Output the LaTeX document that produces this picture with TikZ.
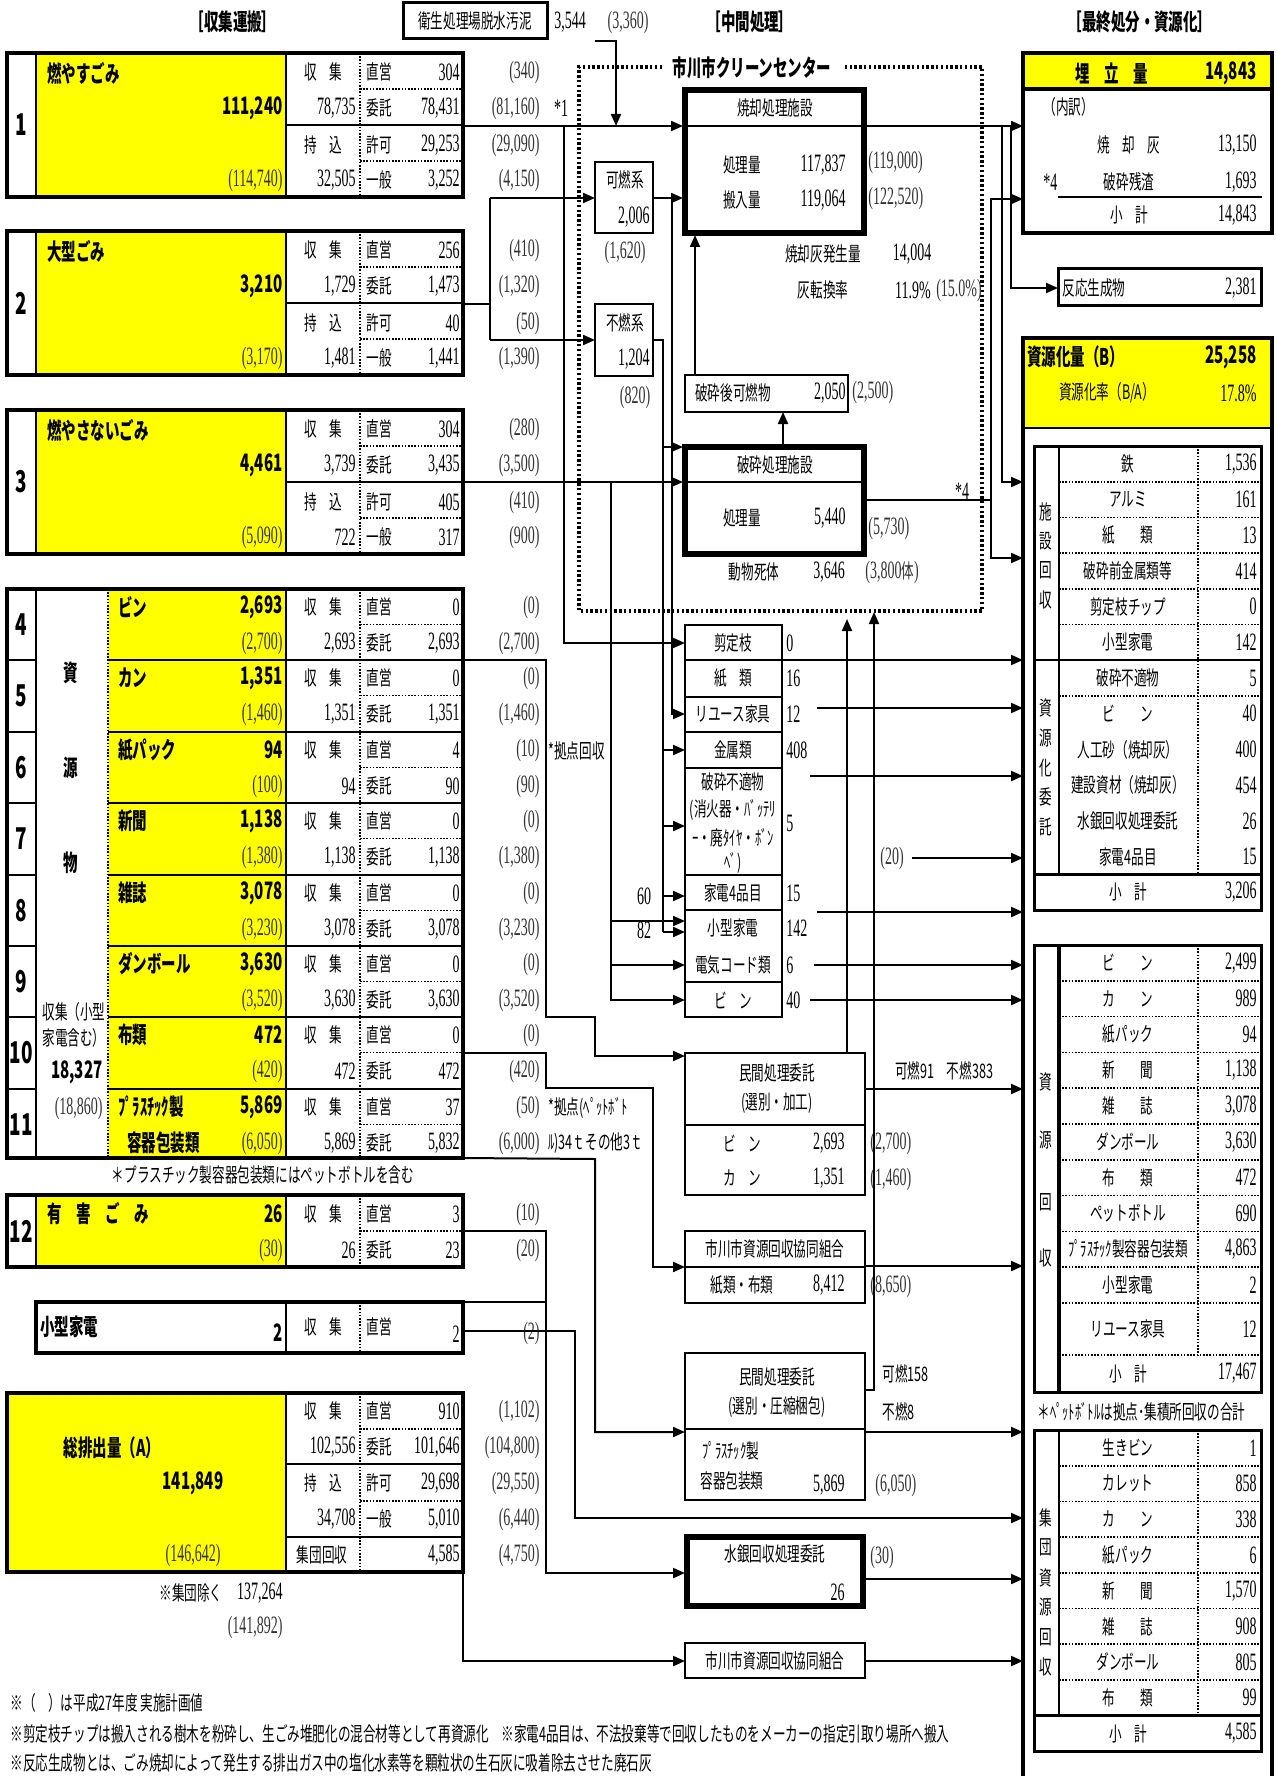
\documentclass[tikz,border=0pt]{standalone}
\usepackage{fontspec}
\setmainfont{Noto Sans CJK JP}[FakeStretch=0.63]
\newfontfamily\numfam{Liberation Serif}[FakeStretch=0.56]
\usetikzlibrary{arrows.meta,calc}
\definecolor{hiyellow}{RGB}{255,255,0}
\tikzset{
  sz/.style 2 args={minimum width=#1*0.5pt,minimum height=#2*0.5pt},
  boxf/.style={draw,line width=2pt,inner sep=0pt,outer sep=0pt,anchor=north west},
  sbox/.style={boxf,line width=1.4pt},
  tbox/.style={boxf,line width=0.8pt},
  jt/.style={inner sep=0pt,font=\fontsize{10}{12}\selectfont},
  jb/.style={inner sep=0pt,font=\bfseries\fontsize{11.5}{13}\selectfont},
  nv/.style={inner sep=0pt,font=\numfam\fontsize{12.5}{14}\selectfont},
  pv/.style={nv,text=black!80},
  bv/.style={inner sep=0pt,font=\bfseries\fontsize{12}{14}\selectfont},
  rowno/.style={inner sep=0pt,font=\bfseries\fontsize{15}{17}\selectfont},
  link/.style={line width=1pt},
  flow/.style={line width=1pt,-{Triangle[length=6pt,width=5pt]}},
  inrule/.style={line width=1.2pt},
  heavy/.style={line width=2pt},
  hair/.style={line width=0.8pt,dash pattern=on 0.8pt off 0.8pt},
  dotbox/.style={line width=1.6pt,dash pattern=on 1.2pt off 1.2pt}
}

\begin{document}
\begin{tikzpicture}[x=0.5pt,y=-0.5pt]
\useasboundingbox (0,0) rectangle (1276,1776);

% headings
\node[jb] (hd1) at (233,22) {［収集運搬］};
\node[jb] (hd2) at (750,22) {［中間処理］};
\node[jb] (hd3) at (1140,22) {［最終処分・資源化］};

% collection 1-3
\foreach \ty/\no/\nm/\tv/\pv/\cv/\mv/\va/\vb/\vc/\vd/\pa/\pb/\pc/\pd in {
  53/1/燃やすごみ/{111,240}/{(114,740)}/{78,735}/{32,505}/304/{78,431}/{29,253}/{3,252}/(340)/{(81,160)}/{(29,090)}/{(4,150)},
  231/2/大型ごみ/{3,210}/{(3,170)}/{1,729}/{1,481}/256/{1,473}/40/{1,441}/(410)/{(1,320)}/(50)/{(1,390)},
  410/3/燃やさないごみ/{4,461}/{(5,090)}/{3,739}/722/304/{3,435}/405/317/(280)/{(3,500)}/(410)/(900)}{
  \fill[hiyellow] (36,\ty) rectangle (286,\ty+144);
  \draw[inrule] (36,\ty) -- (36,\ty+144) (286,\ty) -- (286,\ty+144) (286,\ty+72) -- (463,\ty+72);
  \draw[hair] (360,\ty) -- (360,\ty+144) (360,\ty+36) -- (463,\ty+36) (360,\ty+108) -- (463,\ty+108);
  \node[boxf,sz={456}{144}] (b\no) at (7,\ty) {};
  \node[rowno] (no\no) at (21.5,\ty+72) {\no};
  \node[jb,anchor=west] (nm\no) at (47,\ty+20) {\nm};
  \node[bv,anchor=east] (tv\no) at (283,\ty+55) {\tv};
  \node[pv,anchor=east] (pv\no) at (283,\ty+127) {\pv};
  \node[jt] (sy\no) at (323,\ty+19) {収　集};
  \node[nv,anchor=east] (cv\no) at (356,\ty+55) {\cv};
  \node[jt] (mk\no) at (323,\ty+92) {持　込};
  \node[nv,anchor=east] (mv\no) at (356,\ty+127) {\mv};
  \node[jt,anchor=west] (ka\no) at (366,\ty+19) {直営};
  \node[nv,anchor=east] (va\no) at (460,\ty+19) {\va};
  \node[jt,anchor=west] (kb\no) at (366,\ty+55) {委託};
  \node[nv,anchor=east] (vb\no) at (460,\ty+55) {\vb};
  \node[jt,anchor=west] (kc\no) at (366,\ty+92) {許可};
  \node[nv,anchor=east] (vc\no) at (460,\ty+92) {\vc};
  \node[jt,anchor=west] (kd\no) at (366,\ty+127) {一般};
  \node[nv,anchor=east] (vd\no) at (460,\ty+127) {\vd};
  \node[pv,anchor=east] (pa\no) at (540,\ty+19) {\pa};
  \node[pv,anchor=east] (pb\no) at (540,\ty+55) {\pb};
  \node[pv,anchor=east] (pc\no) at (540,\ty+92) {\pc};
  \node[pv,anchor=east] (pd\no) at (540,\ty+127) {\pd};
}

% collection 4-11 (resources)
\fill[hiyellow] (108,589) rectangle (286,1158);
\foreach \ty/\no/\nm/\tv/\pv/\va/\vb/\pa/\pb in {
  589/4/ビン/{2,693}/{(2,700)}/0/{2,693}/(0)/{(2,700)},
  660/5/カン/{1,351}/{(1,460)}/0/{1,351}/(0)/{(1,460)},
  732/6/紙パック/94/(100)/4/90/(10)/(90),
  803/7/新聞/{1,138}/{(1,380)}/0/{1,138}/(0)/{(1,380)},
  875/8/雑誌/{3,078}/{(3,230)}/0/{3,078}/(0)/{(3,230)},
  946/9/ダンボール/{3,630}/{(3,520)}/0/{3,630}/(0)/{(3,520)},
  1017/10/布類/472/(420)/0/472/(0)/(420),
  1089/11/ﾌﾟﾗｽﾁｯｸ製/{5,869}/{(6,050)}/37/{5,832}/(50)/{(6,000)}}{
  \draw[inrule] (7,\ty) -- (36,\ty) (108,\ty) -- (463,\ty);
  \draw[hair] (360,\ty+35.5) -- (463,\ty+35.5);
  \node[rowno] (no\no) at (21.5,\ty+35.5) {\no};
  \node[jb,anchor=west] (nm\no) at (118,\ty+18) {\nm};
  \node[bv,anchor=east] (tv\no) at (283,\ty+18) {\tv};
  \node[pv,anchor=east] (pv\no) at (283,\ty+54) {\pv};
  \node[jt] (sy\no) at (323,\ty+18) {収　集};
  \node[nv,anchor=east] (cv\no) at (356,\ty+54) {\tv};
  \node[jt,anchor=west] (ka\no) at (366,\ty+18) {直営};
  \node[nv,anchor=east] (va\no) at (460,\ty+18) {\va};
  \node[jt,anchor=west] (kb\no) at (366,\ty+54) {委託};
  \node[nv,anchor=east] (vb\no) at (460,\ty+54) {\vb};
  \node[pv,anchor=east] (pa\no) at (540,\ty+18) {\pa};
  \node[pv,anchor=east] (pb\no) at (540,\ty+54) {\pb};
}
\draw[inrule] (36,589) -- (36,1158) (286,589) -- (286,1158);
\draw[hair] (108,589) -- (108,1158) (360,589) -- (360,1158);
\node[boxf,sz={456}{569}] (bres) at (7,589) {};
\node[jb,anchor=west] (nm11b) at (127,1143) {容器包装類};
\node[jb] (sg1) at (71,673) {資};
\node[jb] (sg2) at (71,768) {源};
\node[jb] (sg3) at (71,863) {物};
\node[jt,anchor=west] (sgc1) at (42,1012) {収集（小型};
\node[jt,anchor=west] (sgc2) at (42,1038) {家電含む）};
\node[bv,anchor=east] (sgv) at (103,1072) {18,327};
\node[pv,anchor=east] (sgp) at (103,1108) {(18,860)};
\node[jt] (plnote) at (263,1175) {＊プラスチック製容器包装類にはペットボトルを含む};
\node[jt,anchor=west] (kyo1) at (548,751) {*拠点回収};
\node[jt,anchor=west] (kyo2) at (548,1108) {*拠点(ﾍﾟｯﾄﾎﾞﾄ};
\node[jt,anchor=west] (kyo3) at (548,1143) {ﾙ)34ｔその他3ｔ};

% collection 12 (hazardous)
\fill[hiyellow] (36,1195) rectangle (286,1267);
\draw[inrule] (36,1195) -- (36,1267) (286,1195) -- (286,1267);
\draw[hair] (360,1195) -- (360,1267) (360,1231) -- (463,1231);
\node[boxf,sz={456}{72}] (b12) at (7,1195) {};
\node[rowno] (no12) at (21.5,1231) {12};
\node[jb,anchor=west] (nm12) at (47,1214) {有　害　ご　み};
\node[bv,anchor=east] (tv12) at (283,1214) {26};
\node[pv,anchor=east] (pv12) at (283,1250) {(30)};
\node[jt] (sy12) at (323,1214) {収　集};
\node[nv,anchor=east] (cv12) at (356,1250) {26};
\node[jt,anchor=west] (ka12) at (366,1214) {直営};
\node[nv,anchor=east] (va12) at (460,1214) {3};
\node[jt,anchor=west] (kb12) at (366,1250) {委託};
\node[nv,anchor=east] (vb12) at (460,1250) {23};
\node[pv,anchor=east] (pa12) at (540,1214) {(10)};
\node[pv,anchor=east] (pb12) at (540,1250) {(20)};

% small appliances
\draw[inrule] (286,1302) -- (286,1353);
\draw[hair] (360,1302) -- (360,1353);
\node[boxf,sz={427}{51}] (bsk) at (36,1302) {};
\node[jb,anchor=west] (nmsk) at (40,1327) {小型家電};
\node[bv,anchor=east] (tvsk) at (283,1333) {2};
\node[jt] (sysk) at (323,1327) {収　集};
\node[jt,anchor=west] (kask) at (366,1327) {直営};
\node[nv,anchor=east] (vask) at (460,1334) {2};
\node[pv,anchor=east] (pask) at (540,1333) {(2)};

% total
\fill[hiyellow] (7,1393) rectangle (286,1572);
\draw[inrule] (286,1393) -- (286,1572) (286,1464) -- (463,1464) (286,1537) -- (463,1537);
\draw[hair] (360,1393) -- (360,1572) (360,1429) -- (463,1429) (360,1501) -- (463,1501);
\node[boxf,sz={456}{179}] (btot) at (7,1393) {};
\node[jb] (nmtot) at (112,1448) {総排出量（A）};
\node[bv] (tvtot) at (193,1483) {141,849};
\node[pv] (pvtot) at (193,1555) {(146,642)};
\node[jt] (sytot) at (323,1411) {収　集};
\node[nv,anchor=east] (cvtot) at (356,1447) {102,556};
\node[jt] (mktot) at (323,1483) {持　込};
\node[nv,anchor=east] (mvtot) at (356,1519) {34,708};
\node[jt] (grtot) at (322,1555) {集団回収};
\node[jt,anchor=west] (katot) at (366,1411) {直営};
\node[nv,anchor=east] (vatot) at (460,1411) {910};
\node[jt,anchor=west] (kbtot) at (366,1447) {委託};
\node[nv,anchor=east] (vbtot) at (460,1447) {101,646};
\node[jt,anchor=west] (kctot) at (366,1483) {許可};
\node[nv,anchor=east] (vctot) at (460,1483) {29,698};
\node[jt,anchor=west] (kdtot) at (366,1519) {一般};
\node[nv,anchor=east] (vdtot) at (460,1519) {5,010};
\node[nv,anchor=east] (vetot) at (460,1555) {4,585};
\node[pv,anchor=east] (patot) at (540,1411) {(1,102)};
\node[pv,anchor=east] (pbtot) at (540,1447) {(104,800)};
\node[pv,anchor=east] (pctot) at (540,1483) {(29,550)};
\node[pv,anchor=east] (pdtot) at (540,1519) {(6,440)};
\node[pv,anchor=east] (petot) at (540,1555) {(4,750)};
\node[jt,anchor=west] (exg) at (159,1593) {※集団除く};
\node[nv,anchor=east] (exgv) at (283,1593) {137,264};
\node[pv,anchor=east] (exgp) at (283,1627) {(141,892)};

% sludge
\node[boxf,line width=1.5pt,sz={144}{36}] (sludge) at (403,3) {};
\node[jt] (sludgetx) at (475,21) {衛生処理場脱水汚泥};
\node[nv] (sludgev) at (570,22) {3,544};
\node[pv] (sludgep) at (628,22) {(3,360)};
\node[nv] (star1) at (561,108) {*1};

% clean center
\draw[dotbox] (662,67) -- (579,67) -- (579,611) -- (982,611) -- (982,67) -- (843,67);
\node[jb] (cctitle) at (752,68) {市川市クリーンセンター};

\node[tbox,sz={183}{147}] (incin) at (683,88) {};
\draw[heavy] ($(incin.north west)+(3,3)$) rectangle ($(incin.south east)+(-3,-3)$);
\draw[inrule] (686,126) -- (863,126);
\node[jt] (incint) at (775,108) {焼却処理施設};
\node[jt] (incina) at (742,165) {処理量};
\node[nv,anchor=east] (incinav) at (846,165) {117,837};
\node[jt] (incinb) at (742,200) {搬入量};
\node[nv,anchor=east] (incinbv) at (846,200) {119,064};
\node[pv,anchor=west] (incinap) at (868,162) {(119,000)};
\node[pv,anchor=west] (incinbp) at (868,198) {(122,520)};
\node[jt] (ash) at (823,254) {焼却灰発生量};
\node[nv] (ashv) at (912,254) {14,004};
\node[jt] (ashr) at (823,290) {灰転換率};
\node[nv] (ashrv) at (913,290) {11.9\%};
\node[pv] (ashrp) at (959,290) {(15.0\%)};

\node[sbox,sz={58}{71}] (kanen) at (595,162) {};
\node[jt] (kanent) at (625,180) {可燃系};
\node[nv,anchor=east] (kanenv) at (650,217) {2,006};
\node[pv] (kanenp) at (625,252) {(1,620)};
\node[sbox,sz={58}{72}] (funen) at (595,304) {};
\node[jt] (funent) at (625,323) {不燃系};
\node[nv,anchor=east] (funenv) at (650,359) {1,204};
\node[pv] (funenp) at (635,397) {(820)};

\node[sbox,sz={163}{37}] (hasaigo) at (685,375) {};
\node[jt] (hasaigot) at (733,393) {破砕後可燃物};
\node[nv,anchor=east] (hasaigov) at (846,393) {2,050};
\node[pv,anchor=west] (hasaigop) at (852,392) {(2,500)};

\node[tbox,sz={183}{111}] (hasai) at (683,445) {};
\draw[heavy] ($(hasai.north west)+(3,3)$) rectangle ($(hasai.south east)+(-3,-3)$);
\draw[inrule] (686,482) -- (863,482);
\node[jt] (hasait) at (775,465) {破砕処理施設};
\node[jt] (hasaia) at (742,518) {処理量};
\node[nv,anchor=east] (hasaiav) at (846,518) {5,440};
\node[pv,anchor=west] (hasaiap) at (868,528) {(5,730)};
\node[jt] (dobutsu) at (754,572) {動物死体};
\node[nv] (dobutsuv) at (829,572) {3,646};
\node[pv,anchor=west] (dobutsup) at (865,572) {(3,800{\normalfont\fontsize{10}{12}\selectfont 体})};
\node[nv] (star4) at (962,491) {*4};

% sorted items column
\node[sbox,sz={97}{35}] (sentei) at (685,625) {};
\node[sbox,sz={97}{37}] (kami) at (685,660) {};
\node[sbox,sz={97}{35}] (reuse) at (685,697) {};
\node[sbox,sz={97}{36}] (kinzoku) at (685,732) {};
\node[sbox,sz={97}{107}] (futeki) at (685,768) {};
\node[sbox,sz={97}{35}] (kaden4) at (685,875) {};
\node[sbox,sz={97}{72}] (kogata) at (685,910) {};
\node[sbox,sz={97}{35}] (bin) at (685,982) {};
\node[jt] (senteit) at (733,643) {剪定枝};
\node[jt] (kamit) at (733,678) {紙　類};
\node[jt] (reuset) at (733,714) {リユース家具};
\node[jt] (kinzokut) at (733,750) {金属類};
\node[jt] (futekit) at (733,782) {破砕不適物};
\node[jt] (futekis1) at (733,810) {(消火器・ﾊﾞｯﾃﾘ};
\node[jt] (futekis2) at (733,838) {ｰ・廃ﾀｲﾔ・ﾎﾞﾝ};
\node[jt] (futekis3) at (733,863) {ﾍﾞ)};
\node[jt] (kaden4t) at (733,893) {家電4品目};
\node[jt] (kogatat) at (733,928) {小型家電};
\node[jt] (cordt) at (733,965) {電気コード類};
\node[jt] (bint) at (733,1000) {ビ　ン};
\foreach \yy/\vl/\nn in {643/0/a,678/16/b,714/12/c,750/408/d,823/5/e,893/15/f,928/142/g,965/6/h,1000/40/i}
  \node[nv,anchor=west] (colv\nn) at (786,\yy) {\vl};
\node[nv] (n60) at (644,896) {60};
\node[nv] (n82) at (644,930) {82};
\node[pv] (n20) at (892,858) {(20)};

% contractors
\node[sbox,sz={180}{142}] (minkan1) at (685,1053) {};
\draw[inrule] (685,1125) -- (865,1125);
\node[jt] (minkan1a) at (777,1073) {民間処理委託};
\node[jt] (minkan1b) at (777,1103) {(選別・加工)};
\node[jt] (minkan1c) at (742,1143) {ビ　ン};
\node[nv,anchor=east] (minkan1cv) at (845,1143) {2,693};
\node[jt] (minkan1d) at (742,1178) {カ　ン};
\node[nv,anchor=east] (minkan1dv) at (845,1178) {1,351};
\node[pv,anchor=west] (minkan1cp) at (870,1143) {(2,700)};
\node[pv,anchor=west] (minkan1dp) at (870,1179) {(1,460)};
\node[jt] (minkan1r) at (944,1071) {可燃91　不燃383};

\node[sbox,sz={180}{72}] (kumiai1) at (685,1231) {};
\draw[inrule] (685,1267) -- (865,1267);
\node[jt] (kumiai1a) at (775,1249) {市川市資源回収協同組合};
\node[jt] (kumiai1b) at (742,1285) {紙類・布類};
\node[nv,anchor=east] (kumiai1v) at (845,1285) {8,412};
\node[pv,anchor=west] (kumiai1p) at (870,1286) {(8,650)};

\node[sbox,sz={180}{147}] (minkan2) at (685,1353) {};
\draw[inrule] (685,1429) -- (865,1429);
\node[jt] (minkan2a) at (777,1377) {民間処理委託};
\node[jt] (minkan2b) at (777,1407) {(選別・圧縮梱包)};
\node[jt,anchor=west] (minkan2c) at (702,1451) {ﾌﾟﾗｽﾁｯｸ製};
\node[jt,anchor=west] (minkan2d) at (700,1481) {容器包装類};
\node[nv,anchor=east] (minkan2v) at (845,1485) {5,869};
\node[pv,anchor=west] (minkan2p) at (875,1485) {(6,050)};
\node[jt,anchor=west] (minkan2r1) at (882,1374) {可燃158};
\node[jt,anchor=west] (minkan2r2) at (882,1412) {不燃8};

\node[tbox,sz={180}{73}] (suigin) at (685,1535) {};
\draw[heavy] ($(suigin.north west)+(3,3)$) rectangle ($(suigin.south east)+(-3,-3)$);
\node[jt] (suigina) at (775,1554) {水銀回収処理委託};
\node[nv,anchor=east] (suiginv) at (845,1592) {26};
\node[pv,anchor=west] (suiginp) at (870,1557) {(30)};

\node[sbox,sz={180}{35}] (kumiai2) at (685,1643) {};
\node[jt] (kumiai2a) at (775,1661) {市川市資源回収協同組合};

% landfill
\fill[hiyellow] (1023,53) rectangle (1272,89);
\draw[heavy] (1023,89) -- (1272,89);
\node[boxf,sz={249}{180}] (umetate) at (1023,53) {};
\node[jb] (umetatet) at (1112,73) {埋　立　量};
\node[bv,anchor=east] (umetatev) at (1257,73) {14,843};
\node[jt,anchor=west] (uchiwake) at (1043,107) {（内訳）};
\node[jt] (umea) at (1129,145) {焼　却　灰};
\node[nv,anchor=east] (umeav) at (1257,145) {13,150};
\node[nv,anchor=west] (umestar) at (1043,182) {*4};
\node[jt] (umeb) at (1129,182) {破砕残渣};
\node[nv,anchor=east] (umebv) at (1257,182) {1,693};
\draw[inrule] (1058,197) -- (1262,197);
\node[jt] (umec) at (1129,215) {小　計};
\node[nv,anchor=east] (umecv) at (1257,215) {14,843};

\node[boxf,line width=1.5pt,sz={203}{37}] (hanno) at (1058,268) {};
\node[jt,anchor=west] (hannot) at (1062,288) {反応生成物};
\node[nv,anchor=east] (hannov) at (1257,288) {2,381};

% recycling
\fill[hiyellow] (1023,338) rectangle (1272,428);
\draw[link] (1023,428) -- (1272,428);
\node[inner sep=0pt,outer sep=0pt,anchor=north west,sz={249}{1438}] (shigen) at (1023,338) {};
\draw[heavy] (shigen.south west) -- (shigen.north west) -- (shigen.north east) -- (shigen.south east);
\node[jb,anchor=west] (shigent) at (1027,357) {資源化量（B）};
\node[bv,anchor=east] (shigenv) at (1257,357) {25,258};
\node[jt] (shigenr) at (1107,393) {資源化率（B/A）};
\node[nv,anchor=east] (shigenrv) at (1257,393) {17.8\%};

% table A
\node[boxf,line width=1.5pt,sz={227}{464}] (tabA) at (1034,446) {};
\draw[inrule] (1059,446) -- (1059,874.4) (1034,660.2) -- (1261,660.2) (1034,874.4) -- (1261,874.4);
\draw[hair] (1198,446) -- (1198,874.4);
\foreach \i in {1,...,5,7,...,11} \draw[hair] (1059,446+35.7*\i) -- (1261,446+35.7*\i);
\foreach \nm/\vl [count=\i from 0] in {鉄/{1,536},アルミ/161,紙　　類/13,破砕前金属類等/414,剪定枝チップ/0,小型家電/142,破砕不適物/5,ビ　　ン/40,人工砂（焼却灰）/400,建設資材（焼却灰）/454,水銀回収処理委託/26,家電4品目/15,小　計/{3,206}}{
  \node[jt] (an\i) at (1128,463.85+35.7*\i) {\nm};
  \node[nv,anchor=east] (av\i) at (1257,463.85+35.7*\i) {\vl};
}
\foreach \ch [count=\i from 0] in {施,設,回,収} \node[jt] (ac\i) at (1046,512+29.3*\i) {\ch};
\foreach \ch [count=\i from 0] in {資,源,化,委,託} \node[jt] (ad\i) at (1046,708+29.8*\i) {\ch};

% table B
\node[boxf,line width=1.5pt,sz={227}{447}] (tabB) at (1034,945) {};
\draw[heavy] (1059,945) -- (1059,1392);
\draw[hair] (1198,945) -- (1198,1355);
\foreach \yy in {980.8,1016.6,1052.4,1088.2,1124,1159.8,1195.6,1231.4,1267.2,1303,1355} \draw[hair] (1059,\yy) -- (1261,\yy);
\foreach \yy/\nm/\vl [count=\i] in {962.9/ビ　　ン/{2,499},998.7/カ　　ン/989,1034.5/紙パック/94,1070.3/新　　聞/{1,138},1106.1/雑　　誌/{3,078},1141.9/ダンボール/{3,630},1177.7/布　　類/472,1213.5/ペットボトル/690,1249.3/ﾌﾟﾗｽﾁｯｸ製容器包装類/{4,863},1285.1/小型家電/2,1329/リユース家具/12,1373.5/小　計/{17,467}}{
  \node[jt] (bn\i) at (1128,\yy) {\nm};
  \node[nv,anchor=east] (bv\i) at (1257,\yy) {\vl};
}
\foreach \ch/\yy [count=\i] in {資/1082,源/1140,回/1202,収/1258} \node[jt] (bc\i) at (1046,\yy) {\ch};
\node[jt,anchor=west] (petnote) at (1037,1412) {＊ﾍﾟｯﾄﾎﾞﾄﾙは拠点･集積所回収の合計};

% table C
\node[boxf,line width=1.5pt,sz={227}{321}] (tabC) at (1034,1430) {};
\draw[inrule] (1059,1430) -- (1059,1715.6);
\draw[line width=1.5pt] (1034,1715.6) -- (1261,1715.6);
\draw[hair] (1198,1430) -- (1198,1715.6);
\foreach \i in {1,...,7} \draw[hair] (1059,1430+35.7*\i) -- (1261,1430+35.7*\i);
\foreach \nm/\vl [count=\i from 0] in {生きビン/1,カレット/858,カ　　ン/338,紙パック/6,新　　聞/{1,570},雑　　誌/908,ダンボール/805,布　　類/99,小　計/{4,585}}{
  \node[jt] (cn\i) at (1128,1447.85+35.7*\i) {\nm};
  \node[nv,anchor=east] (cv\i) at (1257,1447.85+35.7*\i) {\vl};
}
\foreach \ch [count=\i from 0] in {集,団,資,源,回,収} \node[jt] (cc\i) at (1046,1518+29.8*\i) {\ch};

% footnotes
\node[jt,anchor=west] (fn1) at (10,1703) {※（　）は平成27年度 実施計画値};
\node[jt,anchor=west] (fn2) at (10,1734) {※剪定枝チップは搬入される樹木を粉砕し、生ごみ堆肥化の混合材等として再資源化　※家電4品目は、不法投棄等で回収したものをメーカーの指定引取り場所へ搬入};
\node[jt,anchor=west] (fn3) at (10,1763) {※反応生成物とは、ごみ焼却によって発生する排出ガス中の塩化水素等を顆粒状の生石灰に吸着除去させた廃石灰};

% ---- flows
\coordinate (m1) at (564,126);
\draw[flow] (b1.east |- m1) -- (incin.west |- m1);
\coordinate (sl0) at (595,41);
\coordinate (sl1) at (616,41);
\draw[flow] (sl0) -- (sl1) -- (sl1 |- m1);
\coordinate (m2) at (564,643);
\draw[flow] (m1) -- (m2) -- (sentei.west |- m2);

\coordinate (k0) at (490,304);
\coordinate (k1) at (490,198);
\coordinate (k2) at (490,340);
\draw[link] (b2.east |- k0) -- (k0);
\draw[link] (k1) -- (k2);
\draw[flow] (k1) -- (kanen.west |- k1);
\draw[flow] (k2) -- (funen.west |- k2);
\draw[flow] (kanen.east |- k1) -- (incin.west |- k1);

\coordinate (r0) at (672,198);
\coordinate (r1) at (672,714);
\draw[flow] (r0) -- (r1) -- (reuse.west |- r1);

\coordinate (f0) at (663,340);
\coordinate (f1) at (663,932);
\draw[link] (funen.east |- f0) -- (f0) -- (f1);
\foreach \yy/\tg in {447/hasai,750/kinzoku,826/futeki,896/kaden4,932/kogata}
  \draw[flow] (663,\yy) -- (\tg.west |- 0,\yy);

\coordinate (h0) at (611,482);
\coordinate (h1) at (611,1000);
\draw[flow] (b3.east |- h0) -- (hasai.west |- h0);
\draw[flow] (h0) -- (h1) -- (bin.west |- h1);
\foreach \yy in {921,965} \draw[flow] (611,\yy) -- (kogata.west |- 0,\yy);

\draw[flow] (hasai.north -| 783,0) -- (hasaigo.south -| 783,0);
\draw[flow] (hasaigo.north -| 695,0) -- (incin.south -| 695,0);

\draw[flow] (incin.east |- m1) -- (umetate.west |- m1);
\coordinate (u0) at (1002,126);
\coordinate (u1) at (1002,482);
\draw[flow] (u0) -- (u1) -- (shigen.west |- u1);
\coordinate (u2) at (1011,126);
\coordinate (u3) at (1011,288);
\draw[flow] (u2) -- (u3) -- (hanno.west |- u3);

\coordinate (z0) at (991,500);
\coordinate (z1) at (991,199);
\coordinate (z2) at (991,558);
\draw[link] (hasai.east |- z0) -- (z0);
\draw[flow] (z0) -- (z1) -- (umetate.west |- z1);
\draw[flow] (z0) -- (z2) -- (shigen.west |- z2);

\draw[flow] (sentei.south east) -- (shigen.west |- sentei.south east);
\foreach \xx/\yy/\nn in {817/708/a,810/776/b,912/858/c,817/912/d,814/965/e,810/1000/f} {
  \coordinate (q\nn) at (\xx,\yy);
  \draw[flow] (q\nn) -- (shigen.west |- q\nn);
}

\coordinate (v0) at (847,619);
\draw[flow] (minkan1.north -| v0) -- (v0);
\coordinate (w0) at (874,612);
\coordinate (w1) at (874,1390);
\draw[flow] (minkan2.east |- w1) -- (w1) -- (w0);
\coordinate (q7) at (865,1089);
\draw[flow] (minkan1.east |- q7) -- (shigen.west |- q7);

\coordinate (a0) at (546,660);
\coordinate (a1) at (546,1017);
\coordinate (a2) at (595,1056);
\draw[flow] (bres.east |- a0) -- (a0) -- (a1) -| (a2) -- (minkan1.west |- a2);

\coordinate (c0) at (546,1053);
\coordinate (c1) at (653,1088);
\coordinate (c2) at (653,1267);
\draw[flow] (bres.east |- c0) -- (c0) |- (c1) -- (c2) -- (kumiai1.west |- c2);

\coordinate (d0) at (595,1159);
\coordinate (d1) at (595,1432);
\draw[flow] (bres.south east) -- (d0) -- (d1) -- (minkan2.west |- d1);

\coordinate (e0) at (546,1231);
\coordinate (e1) at (546,1573);
\draw[flow] (b12.east) -- (e0) -- (e1) -- (suigin.west |- e1);
\draw[link] (bsk.north east) -- (bsk.north east -| e0);

\coordinate (g0) at (575,1331);
\coordinate (g1) at (575,1518);
\draw[flow] (bsk.east |- g0) -- (g0) -- (g1) -- (shigen.west |- g1);

\coordinate (q8) at (865,1266);
\draw[flow] (kumiai1.east |- q8) -- (shigen.west |- q8);
\draw[flow] (minkan2.east |- d1) -- (shigen.west |- d1);
\coordinate (q9) at (865,1579);
\draw[flow] (suigin.east |- q9) -- (shigen.west |- q9);

\coordinate (t0) at (463,1661);
\draw[flow] (btot.south east) -- (t0) -- (kumiai2.west |- t0);
\draw[flow] (kumiai2.east |- t0) -- (shigen.west |- t0);

\end{tikzpicture}
\end{document}
